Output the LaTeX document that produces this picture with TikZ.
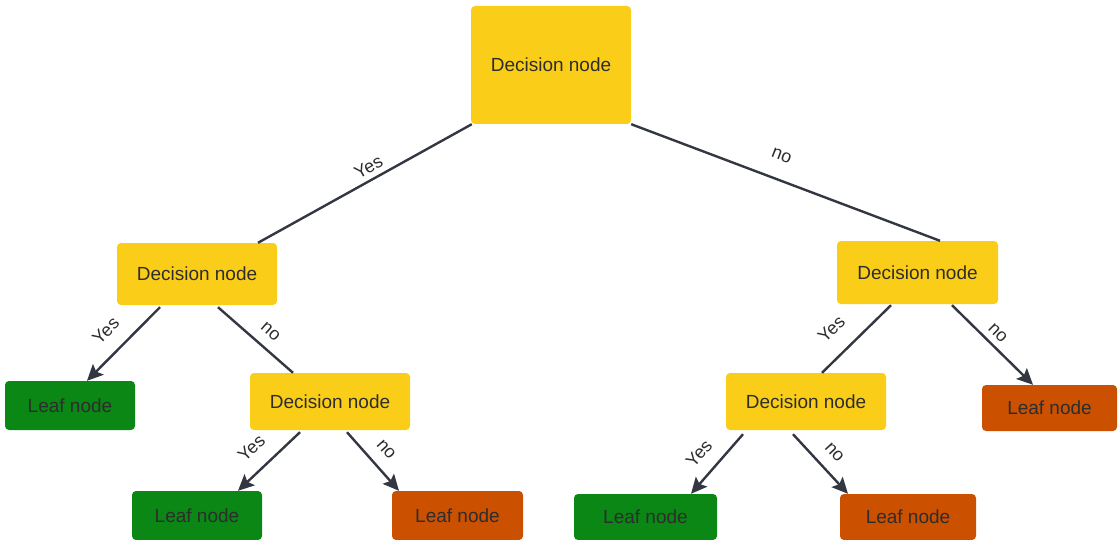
\documentclass[tikz,border=0pt]{standalone}
\usepackage{fontspec}
\setmainfont{Liberation Sans}
\usetikzlibrary{arrows.meta,calc}
\definecolor{decfill}{RGB}{250,206,24}
\definecolor{leafgreen}{RGB}{10,135,20}
\definecolor{leaforange}{RGB}{203,80,0}
\definecolor{linecol}{RGB}{50,55,66}
\definecolor{txt}{RGB}{45,45,45}
\begin{document}
\begin{tikzpicture}[x=1pt,y=-1pt,
  box/.style={rectangle, rounded corners=4pt, inner sep=0pt, text=txt,
    font=\fontsize{19}{22}\selectfont},
  decision/.style={box, fill=decfill},
  leafyes/.style={box, fill=leafgreen},
  leafno/.style={box, fill=leaforange},
  link/.style={draw=linecol, line width=2.4pt},
  arrowlink/.style={link, -{Stealth[length=16pt,width=15pt,inset=3pt]}},
  lbl/.style={sloped, inner sep=0pt, text=txt, font=\fontsize{18}{20}\selectfont}
]
\useasboundingbox (0,0) rectangle (1118,540);

% decision nodes
\node[decision, minimum width=160pt, minimum height=118pt] (root) at (551,65) {Decision node};
\node[decision, minimum width=160pt, minimum height=62pt] (d1) at (197,274) {Decision node};
\node[decision, minimum width=161pt, minimum height=63pt] (d2) at (917.5,272.5) {Decision node};
\node[decision, minimum width=160pt, minimum height=57pt] (d3) at (330,401.5) {Decision node};
\node[decision, minimum width=160pt, minimum height=57pt] (d4) at (806,401.5) {Decision node};

% leaf nodes
\node[leafyes, minimum width=130pt, minimum height=49pt] (leafA) at (70,405.5) {Leaf node};
\node[leafyes, minimum width=130pt, minimum height=49pt] (leafB) at (197,515.5) {Leaf node};
\node[leafno, minimum width=131pt, minimum height=49pt] (leafC) at (457.5,515.5) {Leaf node};
\node[leafno, minimum width=135pt, minimum height=46pt] (leafD) at (1049.5,408) {Leaf node};
\node[leafyes, minimum width=143pt, minimum height=46pt] (leafE) at (645.5,517) {Leaf node};
\node[leafno, minimum width=136pt, minimum height=46pt] (leafF) at (908,517) {Leaf node};

% branches
\draw[link] ([xshift=1pt]root.south west) --
  node[lbl, pos=0.455, above=5pt] {Yes} ([xshift=61pt]d1.north);
\draw[link] (root.south east) --
  node[lbl, pos=0.46, above=17.5pt] {no} ([xshift=22.5pt]d2.north);

\draw[arrowlink] ([xshift=-37pt,yshift=-2pt]d1.south) --
  node[lbl, pos=0.53, above=14.5pt] {Yes} ([xshift=17pt]leafA.north);
\draw[link] ([xshift=21pt,yshift=-2pt]d1.south) --
  node[lbl, pos=0.56, above=10pt] {no} ([xshift=-37pt]d3.north);

\draw[arrowlink] ([xshift=-30pt,yshift=-2pt]d3.south) --
  node[lbl, pos=0.54, above=14.5pt] {Yes} ([xshift=41pt]leafB.north);
\draw[arrowlink] ([xshift=17pt,yshift=-2pt]d3.south) --
  node[lbl, pos=0.5, above=11.5pt] {no} ([xshift=-58.5pt]leafC.north);

\draw[link] ([xshift=-26.5pt,yshift=-1pt]d2.south) --
  node[lbl, pos=0.615, above=17pt] {Yes} ([xshift=16pt]d4.north);
\draw[arrowlink] ([xshift=34.5pt,yshift=-1pt]d2.south) --
  node[lbl, pos=0.46, above=6pt] {no} ([xshift=-16.5pt]leafD.north);

\draw[arrowlink] ([xshift=-63pt,yshift=-4pt]d4.south) --
  node[lbl, pos=0.55, above=13pt] {Yes} ([xshift=45.5pt]leafE.north);
\draw[arrowlink] ([xshift=-13pt,yshift=-4pt]d4.south) --
  node[lbl, pos=0.51, above=12pt] {no} ([xshift=-60pt]leafF.north);
\end{tikzpicture}
\end{document}
